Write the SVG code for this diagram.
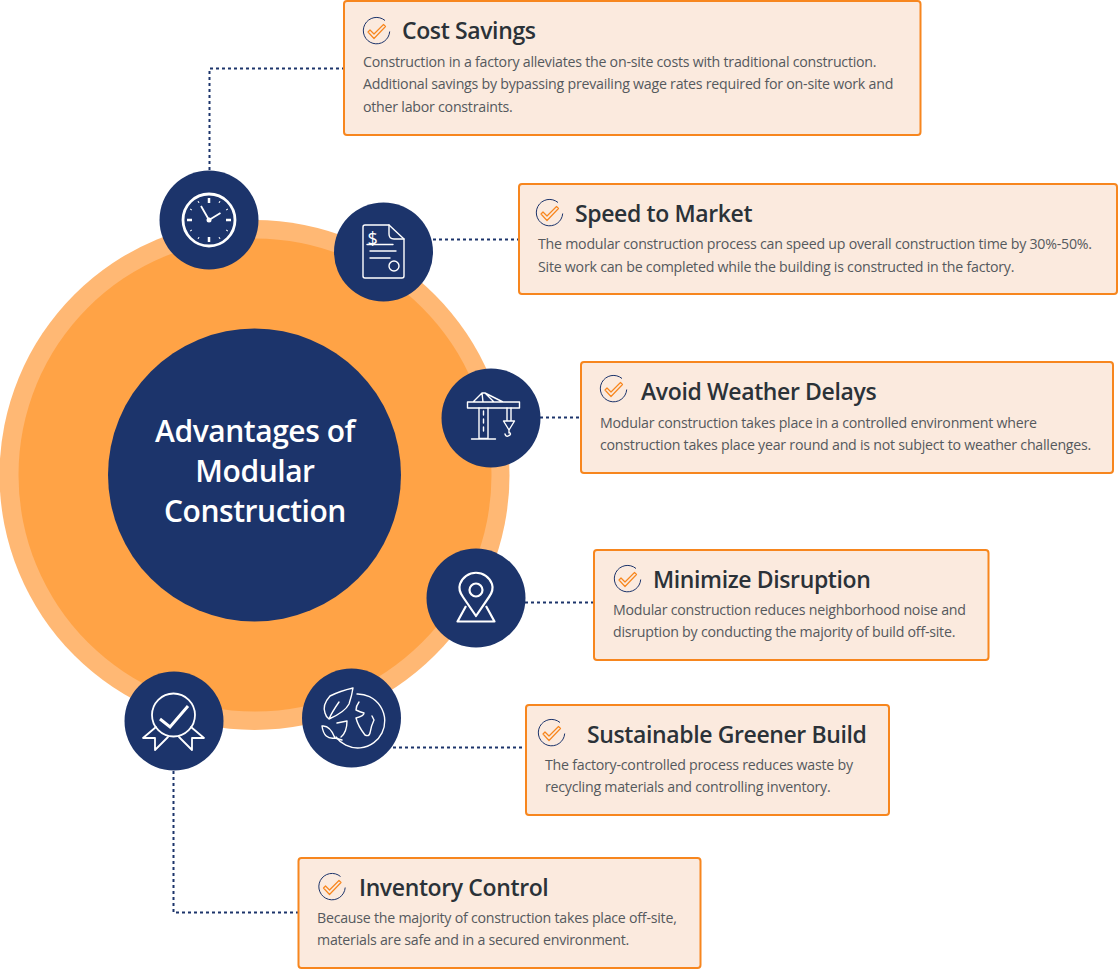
<svg xmlns="http://www.w3.org/2000/svg" width="1119" height="970" viewBox="0 0 1119 970">
<style>
.box{fill:#fbeade;stroke:#f7861e;stroke-width:2}
.t{font-family:"Open Sans",sans-serif;font-weight:600;font-size:23px;letter-spacing:-.38px;fill:#2b3238}
.b{font-family:"Open Sans",sans-serif;font-size:14.2px;letter-spacing:-.24px;fill:#55595d}
.c{font-family:"Open Sans",sans-serif;font-weight:600;font-size:30px;letter-spacing:-.45px;fill:#fff;text-anchor:middle}
.nav{fill:#1c346b}
.ic{fill:none;stroke:#fff;stroke-width:1.4;stroke-linejoin:round;stroke-linecap:round}
.ic2{fill:none;stroke:#fff;stroke-width:2.2;stroke-linejoin:round}
#connectors path{fill:none;stroke:#1c346b;stroke-width:2;stroke-dasharray:3 3}
</style>
<defs>
<g id="chk">
<path d="M8.500-10.500A13.200 13.200 0 1 0 13.200 .5" fill="none" stroke="#1c346b" stroke-width="1"/>
<path d="M-8.500 1L-6.500-1L-2.500 3L7-6.500L9-4.500L-2.500 7.500Z" fill="none" stroke="#f7861e" stroke-width="1.200" stroke-linejoin="round"/>
</g>
</defs>
<rect width="1119" height="970" fill="#fff"/>
<g id="hub">
<circle cx="254.500" cy="475" r="255" fill="#ffb874"/>
<circle cx="255" cy="475" r="236.500" fill="#ffa346"/>
<circle cx="254.500" cy="475" r="146.500" class="nav"/>
<text class="c" x="255" y="442">Advantages of</text>
<text class="c" x="255" y="482">Modular</text>
<text class="c" x="255" y="522">Construction</text>
</g>
<g id="connectors">
<path d="M209.500 170V68.500H344"/>
<path d="M433 239.500H519"/>
<path d="M540 417.500H581"/>
<path d="M525 602.500H594"/>
<path d="M393 747.500H526"/>
<path d="M173.500 771V912.500H298"/>
</g>
<g id="icon-clock">
<circle cx="209" cy="220" r="49.500" class="nav"/>
<circle cx="209" cy="220" r="26" fill="none" stroke="#fff" stroke-width="2.800"/>
<path d="M209 198v5M209 237v5M187 220h5M226 220h5" stroke="#fff" stroke-width="2.500" fill="none"/>
<path d="M198 201l1 2M220 201l-1 2M198 239l1-2M220 239l-1-2M190 209l2 1M228 209l-2 1M190 231l2-1M228 231l-2-1" stroke="#fff" stroke-width="1" fill="none"/>
<path d="M201 206L209 220L220.500 213" fill="none" stroke="#fff" stroke-width="1.800"/>
<circle cx="209" cy="220" r="2.500" fill="#fff"/>
</g>
<g id="icon-doc">
<circle cx="383.500" cy="252" r="49.500" class="nav"/>
<path d="M389 225H365Q363 225 363 227V276Q363 278 365 278H402Q404 278 404 276V239Z" class="ic"/>
<path d="M389 225V234Q389 239 394 239H404" class="ic"/>
<path d="M367 244.500H393M370 251H396M370 258H390" class="ic"/>
<circle cx="394" cy="266" r="5" class="ic"/>
<text x="367.500" y="245" font-family="'Open Sans',sans-serif" font-size="18" fill="#fff">$</text>
</g>
<g id="icon-crane">
<circle cx="491" cy="418" r="49.500" class="nav"/>
<path d="M467.500 402H519.500V408H467.500ZM473 402L482 393H485L503 402M482 393L483 402M485 393L494 402" class="ic"/>
<path d="M479 408V438.500H488V408M471.500 439H495.500" class="ic"/>
<path d="M483.500 411v4M483.500 419v4M483.500 427v4" class="ic"/>
<path d="M507 408V420M511 408V420M503.500 421H514.500L509 430ZM509 430V433M505 434Q506 437.500 509 435.500Q512 434 509 432" class="ic"/>
</g>
<g id="icon-pin">
<circle cx="476" cy="598" r="49.500" class="nav"/>
<path d="M476 616L463 597Q458 590 460 584A17 17 0 0 1 492 584Q494 590 489 597Z" class="ic2"/>
<circle cx="476" cy="590" r="6.500" class="ic2"/>
<path d="M466 606L457.500 621.500H494.500L486 606" class="ic2"/>
</g>
<g id="icon-globe">
<circle cx="351.500" cy="718" r="49.500" class="nav"/>
<path d="M357 694A27 27 0 1 1 336 737" class="ic"/>
<path d="M353 688Q340 691 330 696Q322 705 325 713Q326 717 329 719Q345 712 349 704Q352 695 353 688ZM329 719Q332 712 339 702" class="ic"/>
<path d="M359 702Q356 706 356 710Q360 712 364 713Q364 716 356 718Q358 726 365 735Q369 737 370 733Q371 726 374 720L372 716" class="ic"/>
<path d="M337 723Q342 722 347 721Q347 732 341 737M322 726Q330 725 335 738Q324 740 322 726ZM335 738L342 740" class="ic"/>
</g>
<g id="icon-ribbon">
<circle cx="174" cy="721" r="49.500" class="nav"/>
<circle cx="173.500" cy="715" r="21.500" class="ic" style="stroke-width:1.800"/>
<path d="M160 719L170 727L188 706" fill="none" stroke="#fff" stroke-width="3"/>
<path d="M156 727L143 738H155V750L168 737M191 727L204 738H192V750L179 737" class="ic" style="stroke-width:1.800"/>
</g>
<g id="n1">
<rect class="box" x="344" y="1" width="576.500" height="134" rx="3"/>
<use href="#chk" x="376.500" y="31"/>
<text class="t" x="402" y="39">Cost Savings</text>
<text class="b" x="363" y="67">Construction in a factory alleviates the on-site costs with traditional construction.</text>
<text class="b" x="363" y="89">Additional savings by bypassing prevailing wage rates required for on-site work and</text>
<text class="b" x="363" y="112">other labor constraints.</text>
</g>
<g id="n2">
<rect class="box" x="519" y="184" width="598" height="110" rx="3"/>
<use href="#chk" x="549.500" y="213"/>
<text class="t" x="575" y="222">Speed to Market</text>
<text class="b" x="538" y="249">The modular construction process can speed up overall construction time by 30%-50%.</text>
<text class="b" x="538" y="272">Site work can be completed while the building is constructed in the factory.</text>
</g>
<g id="n3">
<rect class="box" x="581" y="362" width="532" height="111" rx="3"/>
<use href="#chk" x="613.500" y="389"/>
<text class="t" x="641" y="400">Avoid Weather Delays</text>
<text class="b" x="600" y="428">Modular construction takes place in a controlled environment where</text>
<text class="b" x="600" y="450">construction takes place year round and is not subject to weather challenges.</text>
</g>
<g id="n4">
<rect class="box" x="594" y="550" width="394.500" height="110" rx="3"/>
<use href="#chk" x="627.500" y="579"/>
<text class="t" x="653" y="588">Minimize Disruption</text>
<text class="b" x="613" y="615">Modular construction reduces neighborhood noise and</text>
<text class="b" x="613" y="637">disruption by conducting the majority of build off-site.</text>
</g>
<g id="n5">
<rect class="box" x="526" y="705" width="363" height="110" rx="3"/>
<use href="#chk" x="551.500" y="733"/>
<text class="t" x="587" y="743">Sustainable Greener Build</text>
<text class="b" x="545" y="770">The factory-controlled process reduces waste by</text>
<text class="b" x="545" y="792">recycling materials and controlling inventory.</text>
</g>
<g id="n6">
<rect class="box" x="298.500" y="858" width="402" height="110" rx="3"/>
<use href="#chk" x="332" y="887"/>
<text class="t" x="359" y="896">Inventory Control</text>
<text class="b" x="317" y="923">Because the majority of construction takes place off-site,</text>
<text class="b" x="317" y="945">materials are safe and in a secured environment.</text>
</g>
</svg>
